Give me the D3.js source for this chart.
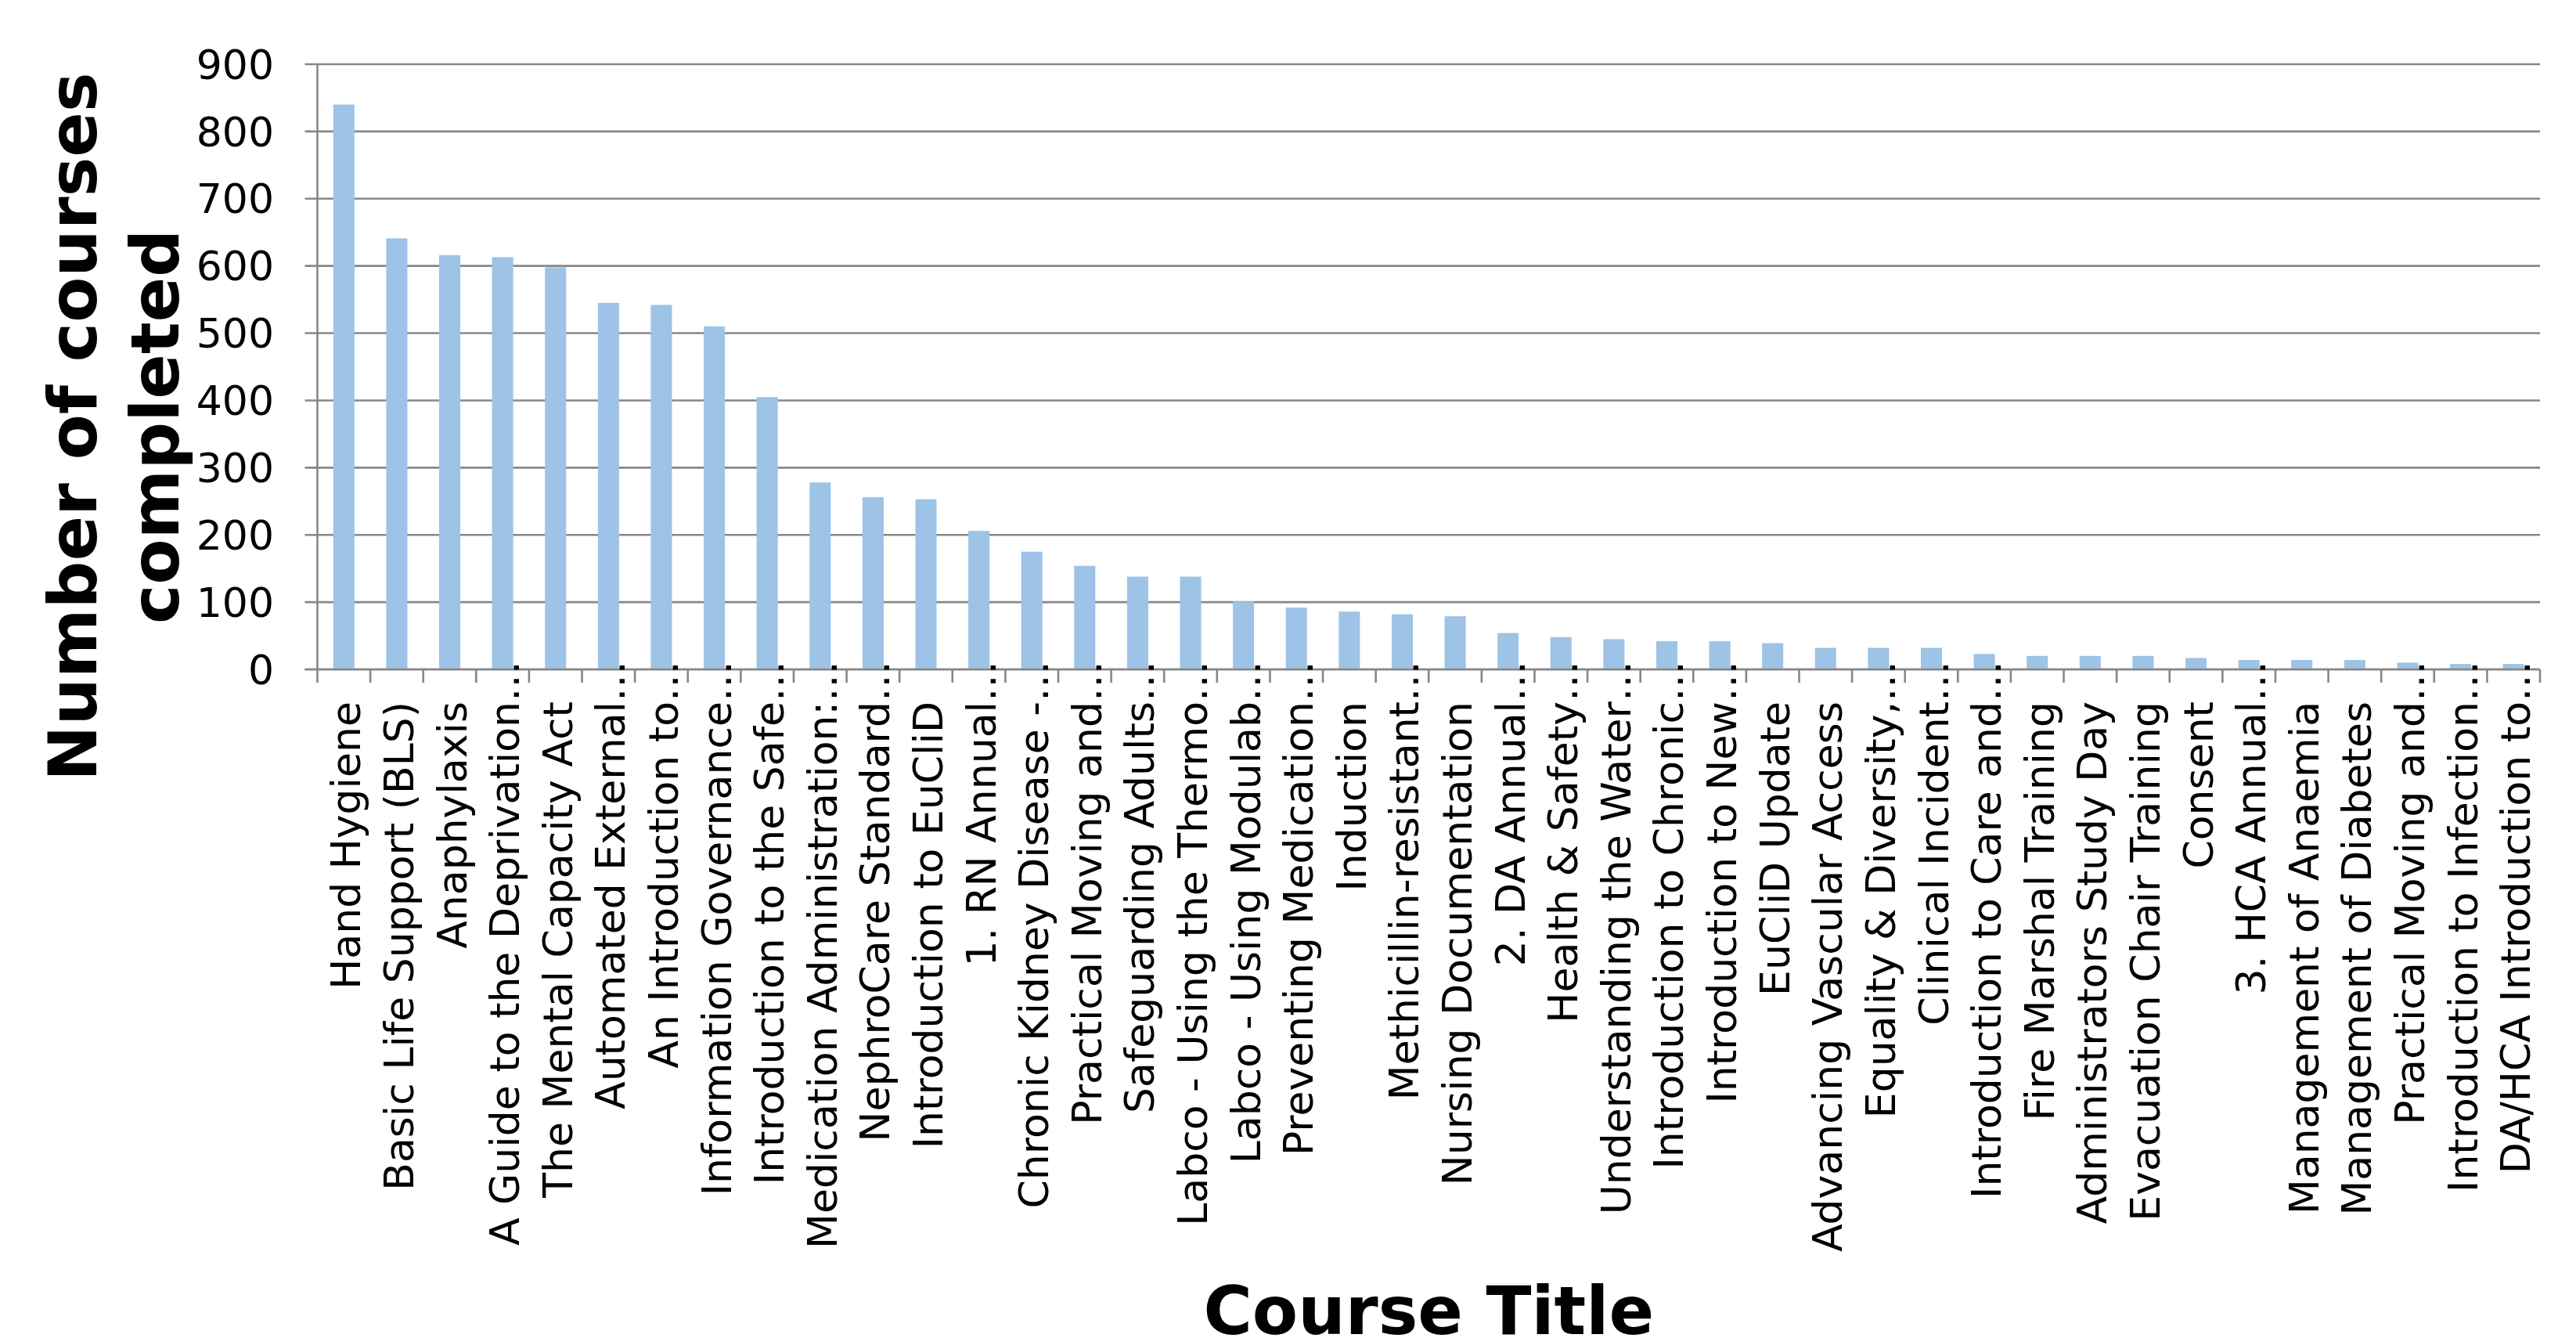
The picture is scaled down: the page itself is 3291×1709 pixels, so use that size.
<!DOCTYPE html>
<html>
<head>
<meta charset="utf-8">
<script src="https://cdn.jsdelivr.net/npm/d3@7"></script>
<style>
  html, body { margin: 0; padding: 0; background: #fff; }
  svg { display: block; }
</style>
</head>
<body>
<svg id="chart" width="3291" height="1709"></svg>
<script>
const courses = [
  "Hand Hygiene",
  "Basic Life Support (BLS)",
  "Anaphylaxis",
  "A Guide to the Deprivation…",
  "The Mental Capacity Act",
  "Automated External…",
  "An Introduction to…",
  "Information Governance…",
  "Introduction to the Safe…",
  "Medication Administration:…",
  "NephroCare Standard…",
  "Introduction to EuCliD",
  "1. RN Annual…",
  "Chronic Kidney Disease -…",
  "Practical Moving and…",
  "Safeguarding Adults…",
  "Labco - Using the Thermo…",
  "Labco - Using Modulab…",
  "Preventing Medication…",
  "Induction",
  "Methicillin-resistant…",
  "Nursing Documentation",
  "2. DA Annual…",
  "Health & Safety…",
  "Understanding the Water…",
  "Introduction to Chronic…",
  "Introduction to New…",
  "EuCliD Update",
  "Advancing Vascular Access",
  "Equality & Diversity,…",
  "Clinical Incident…",
  "Introduction to Care and…",
  "Fire Marshal Training",
  "Administrators Study Day",
  "Evacuation Chair Training",
  "Consent",
  "3. HCA Annual…",
  "Management of Anaemia",
  "Management of Diabetes",
  "Practical Moving and…",
  "Introduction to Infection…",
  "DA/HCA Introduction to…"
];
const completed = [
  840, 641, 616, 613, 598, 545, 542, 510, 405, 278,
  256, 253, 206, 175, 154, 138, 138, 101, 92, 86,
  82, 79, 54, 48, 45, 42, 42, 39, 32, 32,
  32, 23, 20, 20, 20, 17, 14, 14, 14, 10,
  8, 8
];
const yTicks = [0, 100, 200, 300, 400, 500, 600, 700, 800, 900];
const yTitleLines = ["Number of courses", "completed"];
const xTitle = "Course Title";

(function () {
const svg = d3.select("#chart");
svg.append("rect").attr("width", 3291).attr("height", 1709).attr("fill", "#fff");

const pL = 405.5, pR = 3245, pT = 82, pB = 855;
const font = "'DejaVu Sans', Verdana, sans-serif";
const gridColor = "#878787";

const x = d3.scaleBand()
  .domain(d3.range(courses.length))
  .range([pL, pR])
  .paddingInner(0.6)
  .paddingOuter(0.3);
const y = d3.scaleLinear().domain([0, 900]).range([pB, pT]);

// gridlines with left tick marks
svg.append("g").selectAll("line").data(yTicks).join("line")
  .attr("x1", pL - 16).attr("x2", pR)
  .attr("y1", d => y(d)).attr("y2", d => y(d))
  .attr("stroke", gridColor).attr("stroke-width", 2.6);

// y tick labels
svg.append("g").selectAll("text").data(yTicks).join("text")
  .attr("x", 350).attr("y", d => y(d)).attr("dy", "0.36em")
  .attr("text-anchor", "end")
  .attr("font-family", font).attr("font-size", 52).attr("fill", "#000")
  .text(d => d);

// bars
svg.append("g").selectAll("rect").data(completed).join("rect")
  .attr("x", (d, i) => x(i)).attr("width", x.bandwidth())
  .attr("y", d => y(d)).attr("height", d => y(0) - y(d))
  .attr("fill", "#9dc3e6");

// y axis line
svg.append("line")
  .attr("x1", pL).attr("x2", pL).attr("y1", pT).attr("y2", pB)
  .attr("stroke", gridColor).attr("stroke-width", 2.6);

// category boundary ticks
const step = x.step();
const boundaries = d3.range(courses.length + 1).map(i =>
  i < courses.length ? x(i) - (step - x.bandwidth()) / 2 : pR);
svg.append("g").selectAll("line").data(boundaries).join("line")
  .attr("x1", d => d).attr("x2", d => d)
  .attr("y1", pB).attr("y2", pB + 17)
  .attr("stroke", gridColor).attr("stroke-width", 2.6);

// x axis baseline on top
svg.append("line")
  .attr("x1", pL - 16).attr("x2", pR).attr("y1", pB).attr("y2", pB)
  .attr("stroke", gridColor).attr("stroke-width", 2.6);

// category labels (rotated)
const labelEnd = 896;
const lg = svg.append("g");
courses.forEach((name, i) => {
  const cx = x(i) + x.bandwidth() / 2;
  const truncated = name.endsWith("…");
  const main = truncated ? name.slice(0, -1) : name;
  const g = lg.append("g").attr("transform", `translate(${cx},${labelEnd}) rotate(-90)`);
  g.append("text")
    .attr("x", 0).attr("y", 0).attr("dy", 21)
    .attr("text-anchor", "end")
    .attr("font-family", font).attr("font-size", 52).attr("fill", "#000")
    .text(main);
  if (truncated) {
    g.append("text")
      .attr("x", 0).attr("y", 0).attr("dy", 21)
      .attr("text-anchor", "start")
      .attr("font-family", font).attr("font-size", 52).attr("fill", "#000")
      .text("…");
  }
});

// y axis title
const yt = svg.append("g").attr("transform", "translate(0,545) rotate(-90)");
yTitleLines.forEach((line, i) => {
  yt.append("text")
    .attr("x", 0).attr("y", i === 0 ? 123 : 228)
    .attr("text-anchor", "middle")
    .attr("font-family", font).attr("font-weight", "bold").attr("font-size", 85)
    .attr("fill", "#000")
    .text(line);
});

// x axis title
svg.append("text")
  .attr("x", (pL + pR) / 2).attr("y", 1704)
  .attr("text-anchor", "middle")
  .attr("font-family", font).attr("font-weight", "bold").attr("font-size", 85)
  .attr("fill", "#000")
  .text(xTitle);
})();
</script>
</body>
</html>
